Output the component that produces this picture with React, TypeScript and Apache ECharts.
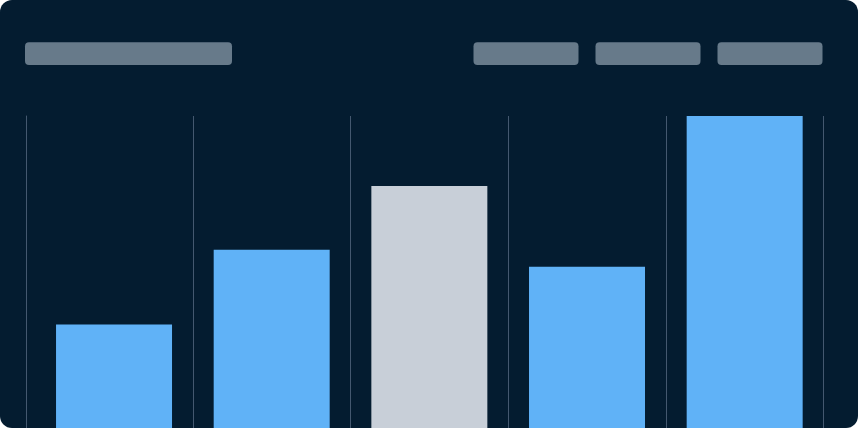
import React, { useEffect, useRef } from "react";
import * as echarts from "echarts";

const categories = ["A", "B", "C", "D", "E"];
const values = [33.2, 57.1, 77.6, 51.7, 100];
const highlightIndex = 2;

const BG = "#041c30";
const BLUE = "#60b2f7";
const GRAY = "#c8cfd8";
const PLACEHOLDER = "#677a8a";
const LINE = "#44586f";

export default function App() {
  const ref = useRef<HTMLDivElement>(null);
  useEffect(() => {
    document.body.style.margin = "0";
    if (!ref.current) return;
    const chart = echarts.init(ref.current, undefined, { renderer: "svg" });
    const rects = [
      { x: 25, w: 207 },
      { x: 473.5, w: 105 },
      { x: 595.5, w: 105 },
      { x: 717.5, w: 105 },
    ];
    chart.setOption({
      animation: false,
      backgroundColor: "transparent",
      grid: { left: 35.2, right: 34.5, top: 116, bottom: 0, containLabel: false },
      xAxis: {
        type: "category",
        data: categories,
        axisLine: { show: false },
        axisTick: { show: false },
        axisLabel: { show: false },
        splitLine: {
          show: true,
          interval: (index: number) => index !== 0,
          lineStyle: { color: LINE, width: 1 },
        },
      },
      yAxis: {
        type: "value",
        min: 0,
        max: 100,
        offset: 8.5,
        axisLine: { show: true, lineStyle: { color: LINE, width: 1 } },
        axisTick: { show: false },
        axisLabel: { show: false },
        splitLine: { show: false },
      },
      graphic: rects.map((r) => ({
        type: "rect",
        shape: { x: r.x, y: 42.3, width: r.w, height: 22.7, r: 4 },
        style: { fill: PLACEHOLDER },
      })),
      series: [
        {
          type: "bar",
          barWidth: 116,
          data: values.map((v, i) => ({
            value: v,
            itemStyle: { color: i === highlightIndex ? GRAY : BLUE },
          })),
        },
      ],
    });
    return () => chart.dispose();
  }, []);
  return (
    <div
      style={{
        position: "fixed",
        left: 0,
        top: 0,
        width: 858,
        height: 428,
        borderRadius: 12,
        overflow: "hidden",
        background: BG,
      }}
    >
      <div ref={ref} style={{ width: 858, height: 428 }} />
    </div>
  );
}
